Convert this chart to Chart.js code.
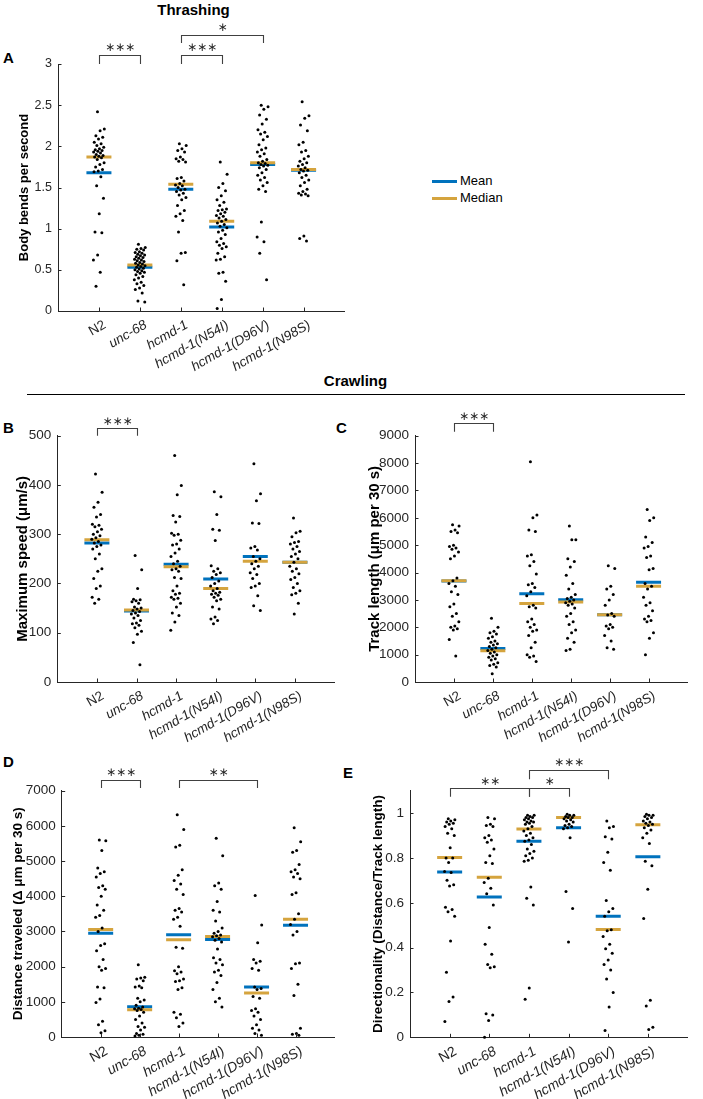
<!DOCTYPE html>
<html><head><meta charset="utf-8">
<script src="https://cdn.jsdelivr.net/npm/chart.js@4.4.1/dist/chart.umd.min.js"></script>
<style>
html,body{margin:0;padding:0;background:#fff;width:703px;height:1099px;overflow:hidden;font-family:"Liberation Sans",Arial,sans-serif;color:#262626}
canvas{position:absolute}
.txt{position:absolute;white-space:nowrap;line-height:1}
.lg{position:absolute;height:3px;width:25px}
</style></head><body>
<div class="txt" style="left:193.5px;top:2px;transform:translateX(-50%);font-weight:bold;font-size:15px;color:#000">Thrashing</div>
<div class="txt" style="left:355.5px;top:373px;transform:translateX(-50%);font-weight:bold;font-size:15px;color:#000">Crawling</div>
<div style="position:absolute;left:27px;top:393.5px;width:658px;height:1.3px;background:#000"></div>
<div class="txt" style="left:3px;top:50px;font-weight:bold;font-size:15px;color:#000">A</div>
<div class="txt" style="left:3px;top:420px;font-weight:bold;font-size:15px;color:#000">B</div>
<div class="txt" style="left:336px;top:420px;font-weight:bold;font-size:15px;color:#000">C</div>
<div class="txt" style="left:3px;top:754px;font-weight:bold;font-size:15px;color:#000">D</div>
<div class="txt" style="left:343px;top:765px;font-weight:bold;font-size:15px;color:#000">E</div>
<div class="lg" style="left:432px;top:179.5px;background:#0072BD"></div>
<div class="txt" style="left:460px;top:174px;font-size:13px;color:#000">Mean</div>
<div class="lg" style="left:432px;top:196.5px;background:#D5A43E"></div>
<div class="txt" style="left:460px;top:191px;font-size:13px;color:#000">Median</div>
<script>
// ---------------- DATA ----------------
const categories = ['N2','unc-68','hcmd-1','hcmd-1(N54I)','hcmd-1(D96V)','hcmd-1(N98S)'];

// A: Thrashing – body bends per second
const thrashValues = [
  [2.42,2.21,2.19,2.13,2.11,2.09,2.05,2.03,2.01,1.99,1.97,1.96,1.95,1.94,1.93,1.92,1.90,1.89,1.88,1.87,1.86,1.84,1.80,1.78,1.75,1.72,1.70,1.69,1.63,1.52,1.37,1.18,0.96,0.95,0.68,0.62,0.47,0.30],
  [0.81,0.77,0.76,0.75,0.74,0.72,0.71,0.70,0.69,0.68,0.67,0.66,0.65,0.64,0.63,0.62,0.61,0.60,0.59,0.58,0.57,0.56,0.55,0.54,0.53,0.52,0.51,0.50,0.49,0.48,0.47,0.46,0.44,0.42,0.40,0.38,0.35,0.33,0.31,0.28,0.26,0.22,0.12,0.11],
  [2.03,2.01,1.97,1.95,1.93,1.87,1.85,1.84,1.82,1.81,1.62,1.61,1.58,1.55,1.53,1.52,1.50,1.48,1.47,1.45,1.43,1.41,1.38,1.35,1.28,1.22,1.18,1.15,1.10,0.96,0.71,0.70,0.61,0.32],
  [1.81,1.66,1.55,1.50,1.46,1.40,1.35,1.32,1.28,1.24,1.23,1.22,1.20,1.18,1.16,1.15,1.13,1.11,1.09,1.07,1.05,1.03,1.01,0.98,0.96,0.93,0.88,0.84,0.82,0.80,0.78,0.76,0.70,0.66,0.63,0.62,0.47,0.46,0.36,0.14,0.03],
  [2.50,2.48,2.45,2.38,2.33,2.27,2.20,2.17,2.15,2.12,2.08,2.02,1.98,1.96,1.93,1.91,1.88,1.84,1.82,1.80,1.79,1.78,1.77,1.76,1.74,1.72,1.68,1.65,1.62,1.59,1.56,1.52,1.48,1.45,1.08,0.90,0.84,0.70,0.38],
  [2.54,2.37,2.34,2.26,2.19,2.05,2.02,1.95,1.93,1.88,1.85,1.82,1.80,1.78,1.76,1.74,1.72,1.71,1.70,1.68,1.65,1.62,1.59,1.56,1.52,1.48,1.45,1.43,1.42,1.41,1.40,0.91,0.88,0.85]
];
const thrashMeans   = [1.68,0.53,1.48,1.02,1.78,1.71];
const thrashMedians = [1.87,0.56,1.54,1.09,1.80,1.72];
const thrashTicks   = [0,0.5,1,1.5,2,2.5,3];
const thrashSig     = [[1,2,'***'],[3,4,'***'],[3,5,'*']];

// B: Maximum speed (µm/s)
const speedValues = [
  [422,385,365,355,340,335,320,318,315,310,305,300,297,293,290,285,282,278,275,270,260,250,230,225,210,195,190,172,168,160],
  [257,228,190,168,167,165,163,160,152,150,148,145,143,140,138,135,130,125,120,118,115,110,103,97,80,35],
  [460,399,380,338,336,325,302,300,298,288,280,278,270,262,255,245,240,235,230,228,225,212,210,195,185,180,178,172,170,168,160,152,140,135,122,105],
  [386,376,340,310,308,287,236,230,225,222,218,212,205,200,195,190,185,182,180,178,176,172,168,165,152,148,132,128,125,118],
  [443,382,368,323,322,275,272,268,255,250,245,240,235,230,222,218,210,200,195,192,175,155,145],
  [333,306,303,295,285,283,280,275,270,265,260,255,250,243,235,230,225,220,212,208,200,192,185,180,177,160,138]
];
const speedMeans   = [282,144,239,209,255,243];
const speedMedians = [289,146,234,190,245,243];
const speedTicks   = [0,100,200,300,400,500];
const speedSig     = [[1,2,'***']];

// C: Track length (µm per 30 s)
const trackValues = [
  [5750,5700,5550,5500,5450,5000,4950,4900,4850,4750,4600,4500,3800,3700,3600,3500,3300,3200,2850,2750,2500,2400,2200,2050,2000,1950,1900,1550,950],
  [2330,2000,1850,1800,1750,1650,1600,1500,1450,1400,1350,1300,1250,1200,1150,1100,1050,1000,950,900,850,800,700,650,600,550,300],
  [8050,6100,6000,5550,5500,4650,4600,4400,4250,3950,3600,3550,3450,3300,3150,2800,2750,2700,2300,2200,2100,2000,1900,1850,1700,1450,1250,1000,950,900,750],
  [5700,5200,5200,4500,4400,4200,3900,3600,3400,3200,3100,3050,3000,2950,2900,2850,2800,2700,2500,2400,2200,2100,1900,1800,1600,1450,1200,1150],
  [4250,4150,3500,3400,3200,3000,2800,2500,2450,2400,2100,2050,2000,1950,1700,1500,1250,1200],
  [6300,6000,5900,5300,5100,4950,4900,4600,4550,4150,4100,3600,3500,3400,3100,2900,2800,2600,2400,2300,2250,2200,1800,1600,1000]
];
const trackMeans   = [3690,1228,3223,3004,2460,3649];
const trackMedians = [3700,1143,2870,2919,2457,3502];
const trackTicks   = [0,1000,2000,3000,4000,5000,6000,7000,8000,9000];
const trackSig     = [[1,2,'***']];

// D: Distance traveled (Δ µm per 30 s)
const distValues = [
  [5600,5580,5300,4800,4700,4650,4550,4300,4250,4200,4000,3750,3600,3450,3400,3100,3000,2650,2600,2450,2200,2000,1950,1900,1420,1400,1080,980,450,350,180,120],
  [2050,1700,1680,1650,1600,1450,1420,1400,1100,1050,1000,900,850,820,800,780,750,700,600,500,400,300,280,200,100,80,50,30],
  [6320,5900,5450,5400,4750,4600,4450,4350,4200,4050,3650,3600,3550,3400,3350,3150,2550,2520,2000,1880,1850,1800,1650,1600,1580,1400,1350,700,650,550,400,300],
  [5650,5150,4380,4300,4200,3850,3600,3550,3300,3100,3000,2950,2900,2880,2850,2800,2750,2700,2500,2250,2200,2100,2050,1900,1850,1750,1550,1350,1100,1000,850],
  [4020,3180,2680,2200,2150,2100,1950,1900,1420,1380,1350,1150,1100,800,750,700,600,500,350,250,200,100,50],
  [5950,5550,5300,5250,4900,4750,4700,4650,4550,4500,4100,4050,3500,3350,3200,3000,2900,2100,2080,1950,1500,1180,250,100,80,50]
];
const distMeans   = [2951,861,2904,2772,1419,3178];
const distMedians = [3055,776,2762,2857,1249,3349];
const distTicks   = [0,1000,2000,3000,4000,5000,6000,7000];
const distSig     = [[1,2,'***'],[3,5,'**']];

// E: Directionality (Distance/Track length)
const dirValues = [
  [0.975,0.97,0.965,0.96,0.955,0.95,0.94,0.93,0.91,0.90,0.845,0.80,0.80,0.78,0.74,0.735,0.70,0.68,0.675,0.58,0.57,0.56,0.54,0.43,0.29,0.18,0.16,0.07],
  [0.98,0.975,0.95,0.945,0.94,0.90,0.89,0.88,0.87,0.84,0.81,0.78,0.775,0.71,0.69,0.665,0.64,0.59,0.49,0.415,0.37,0.325,0.315,0.31,0.105,0.10,0.075,0.0],
  [0.99,0.99,0.985,0.98,0.98,0.975,0.97,0.965,0.96,0.96,0.955,0.95,0.94,0.93,0.92,0.91,0.90,0.89,0.88,0.875,0.86,0.84,0.83,0.82,0.81,0.80,0.79,0.785,0.67,0.62,0.59,0.22,0.17],
  [0.995,0.99,0.99,0.985,0.98,0.98,0.975,0.97,0.965,0.96,0.95,0.945,0.94,0.935,0.93,0.89,0.65,0.575,0.425],
  [0.965,0.94,0.935,0.895,0.885,0.825,0.78,0.745,0.61,0.575,0.56,0.54,0.48,0.475,0.45,0.415,0.395,0.375,0.345,0.325,0.30,0.26,0.20,0.135,0.03],
  [0.995,0.99,0.99,0.985,0.98,0.975,0.965,0.96,0.955,0.95,0.945,0.935,0.925,0.91,0.89,0.865,0.785,0.765,0.66,0.53,0.165,0.14,0.045,0.035]
];
const dirMeans   = [0.737,0.626,0.875,0.935,0.540,0.805];
const dirMedians = [0.802,0.714,0.929,0.981,0.481,0.948];
const dirTicks   = [0,0.2,0.4,0.6,0.8,1];
const dirSig     = [[1,3,'**'],[3,4,'*'],[3,5,'***']];

// ---------------- STYLE / LAYOUT ----------------
const AXIS = '#262626';
const MEAN_COLOR = '#0072BD';
const MEDIAN_COLOR = '#D5A43E';
const FONT = '"Liberation Sans", Arial, Helvetica, sans-serif';

function jitter(i){ const f = (i*0.618034 + 0.37) % 1; return (f - 0.5) * 0.27; }

const inwardTicks = {
  id: 'inwardTicks',
  afterDraw(chart){
    const {ctx, chartArea: ca, scales: {x, y}} = chart;
    ctx.save();
    ctx.strokeStyle = AXIS; ctx.lineWidth = 1;
    ctx.beginPath();
    y.ticks.forEach(t => { const py = Math.round(y.getPixelForValue(t.value)) + 0.5; ctx.moveTo(ca.left, py); ctx.lineTo(ca.left + 3.5, py); });
    x.ticks.forEach(t => { const px = Math.round(x.getPixelForValue(t.value)) + 0.5; ctx.moveTo(px, ca.bottom); ctx.lineTo(px, ca.bottom - 3.5); });
    ctx.stroke();
    ctx.restore();
  }
};

const brackets = {
  id: 'brackets',
  afterDraw(chart, args, opts){
    const {ctx, chartArea: ca, scales: {x}} = chart;
    const items = opts.items || [], lay = opts.layout || [];
    ctx.save();
    ctx.strokeStyle = '#404040'; ctx.lineWidth = 1.1;
    ctx.fillStyle = AXIS;
    ctx.font = '12px "DejaVu Sans", sans-serif';
    ctx.textAlign = 'center'; ctx.textBaseline = 'middle';
    items.forEach((b, i) => {
      const L = lay[i];
      const xa = Math.round(x.getPixelForValue(b[0])) + 0.5, xb = Math.round(x.getPixelForValue(b[1])) + 0.5;
      const yb = Math.round(ca.top + L.bar) + 0.5, yl = ca.top + L.leg;
      ctx.beginPath();
      ctx.moveTo(xa, yl); ctx.lineTo(xa, yb); ctx.lineTo(xb, yb); ctx.lineTo(xb, yl);
      ctx.stroke();
      ctx.fillText(b[2].replace(/\*/g, '\u2217'), (xa + xb) / 2, ca.top + L.text);
    });
    ctx.restore();
  }
};

function makePanel(p){
  const cv = document.createElement('canvas');
  cv.width = p.canvas.w; cv.height = p.canvas.h;
  cv.style.left = p.canvas.left + 'px'; cv.style.top = p.canvas.top + 'px';
  cv.style.width = p.canvas.w + 'px'; cv.style.height = p.canvas.h + 'px';
  document.body.appendChild(cv);
  const padL = p.titleX - p.canvas.left - p.titleSize * 1.2 / 2;
  const yW = p.area.left - p.canvas.left - padL;
  const padTop = p.area.top - p.canvas.top;
  const padRight = p.canvas.left + p.canvas.w - p.area.right;
  const xH = p.canvas.top + p.canvas.h - p.area.bottom;

  const pts = [];
  p.values.forEach((arr, g) => arr.forEach((v, i) => pts.push({x: g + 1 + jitter(i), y: v})));
  const meanPts = p.means.map((v, g) => ({x: g + 1, y: v}));
  const medPts = p.medians.map((v, g) => ({x: g + 1, y: v}));

  new Chart(cv, {
    type: 'scatter',
    data: {
      datasets: [
        {label: 'points', data: pts, order: 0, pointRadius: 1.5, pointBackgroundColor: '#000', pointBorderWidth: 0, borderWidth: 0, clip: false},
        {label: 'Median', data: medPts, order: 1, pointStyle: 'line', pointRadius: 12.5, pointBorderColor: MEDIAN_COLOR, pointBorderWidth: 3, borderColor: MEDIAN_COLOR},
        {label: 'Mean', data: meanPts, order: 2, pointStyle: 'line', pointRadius: 12.5, pointBorderColor: MEAN_COLOR, pointBorderWidth: 3, borderColor: MEAN_COLOR}
      ]
    },
    options: {
      responsive: false, animation: false, devicePixelRatio: 1,
      events: [],
      layout: {padding: {left: padL, top: padTop, right: padRight, bottom: 0}},
      plugins: {
        legend: {display: false}, tooltip: {enabled: false},
        brackets: {items: p.sig, layout: p.sigLayout}
      },
      scales: {
        x: {
          type: 'linear', min: 0, max: 7,
          afterBuildTicks: s => { s.ticks = categories.map((c, i) => ({value: i + 1})); },
          afterFit: s => { s.height = xH; },
          grid: {display: false, drawTicks: false},
          border: {display: true, color: AXIS, width: 1},
          ticks: {
            autoSkip: false, minRotation: 30, maxRotation: 30, padding: p.xPad, labelOffset: p.xOffset,
            color: AXIS,
            font: ctx => ({family: FONT, size: p.xFont, style: ctx.index === 0 ? 'normal' : 'italic'}),
            callback: v => categories[Math.round(v) - 1]
          }
        },
        y: {
          type: 'linear', min: p.min, max: p.max,
          afterBuildTicks: s => { s.ticks = p.ticks.map(v => ({value: v})); },
          afterFit: s => { s.width = yW; },
          grid: {display: false, drawTicks: false},
          border: {display: true, color: AXIS, width: 1},
          ticks: {padding: 6, color: AXIS, font: {family: FONT, size: p.tickFont}, callback: v => String(v)},
          title: {display: true, text: p.title, color: '#000', padding: {top: 0, bottom: 0},
                  font: {family: FONT, size: p.titleSize, weight: 'bold'}}
        }
      }
    },
    plugins: [inwardTicks, brackets]
  });
}

makePanel({canvas: {left: 0, top: 0, w: 360, h: 372}, area: {left: 58, top: 64, right: 347, bottom: 311},
  titleX: 24, titleSize: 13, tickFont: 12.5, xFont: 13.5, xPad: 6, xOffset: 6,
  title: 'Body bends per second', min: 0, max: 3, ticks: thrashTicks,
  values: thrashValues, means: thrashMeans, medians: thrashMedians,
  sig: thrashSig, sigLayout: [{bar: -9, leg: 0, text: -16}, {bar: -9, leg: 0, text: -16}, {bar: -29, leg: -21, text: -36}]});

makePanel({canvas: {left: 0, top: 398, w: 350, h: 345}, area: {left: 57.3, top: 435.7, right: 347, bottom: 682},
  titleX: 23, titleSize: 15, tickFont: 13.5, xFont: 13.5, xPad: 6, xOffset: 6,
  title: 'Maximum speed (\u03bcm/s)', min: 0, max: 500, ticks: speedTicks,
  values: speedValues, means: speedMeans, medians: speedMedians,
  sig: speedSig, sigLayout: [{bar: -8, leg: 0, text: -14}]});

makePanel({canvas: {left: 350, top: 398, w: 353, h: 345}, area: {left: 415, top: 435.7, right: 700, bottom: 682},
  titleX: 375, titleSize: 15, tickFont: 13.5, xFont: 13.5, xPad: 6, xOffset: 6,
  title: 'Track length (\u03bcm per 30 s)', min: 0, max: 9000, ticks: trackTicks,
  values: trackValues, means: trackMeans, medians: trackMedians,
  sig: trackSig, sigLayout: [{bar: -12.4, leg: -4, text: -19}]});

makePanel({canvas: {left: 0, top: 745, w: 350, h: 354}, area: {left: 61.7, top: 790.7, right: 347, bottom: 1037},
  titleX: 18.3, titleSize: 13.5, tickFont: 13.5, xFont: 14, xPad: 6, xOffset: 6,
  title: 'Distance traveled (\u0394 \u03bcm per 30 s)', min: 0, max: 7000, ticks: distTicks,
  values: distValues, means: distMeans, medians: distMedians,
  sig: distSig, sigLayout: [{bar: -10.7, leg: -2.7, text: -17.7}, {bar: -10.7, leg: -2.7, text: -17.7}]});

makePanel({canvas: {left: 350, top: 745, w: 353, h: 354}, area: {left: 410, top: 790.7, right: 700, bottom: 1037.3},
  titleX: 378.3, titleSize: 13.5, tickFont: 13.5, xFont: 14, xPad: 6, xOffset: 6,
  title: 'Directionality (Distance/Track length)', min: 0, max: 1.1, ticks: dirTicks,
  values: dirValues, means: dirMeans, medians: dirMedians,
  sig: dirSig, sigLayout: [{bar: -2.4, leg: 6, text: -9}, {bar: -2.4, leg: 6, text: -9}, {bar: -20.7, leg: -11.4, text: -27.4}]});
</script>
</body></html>
